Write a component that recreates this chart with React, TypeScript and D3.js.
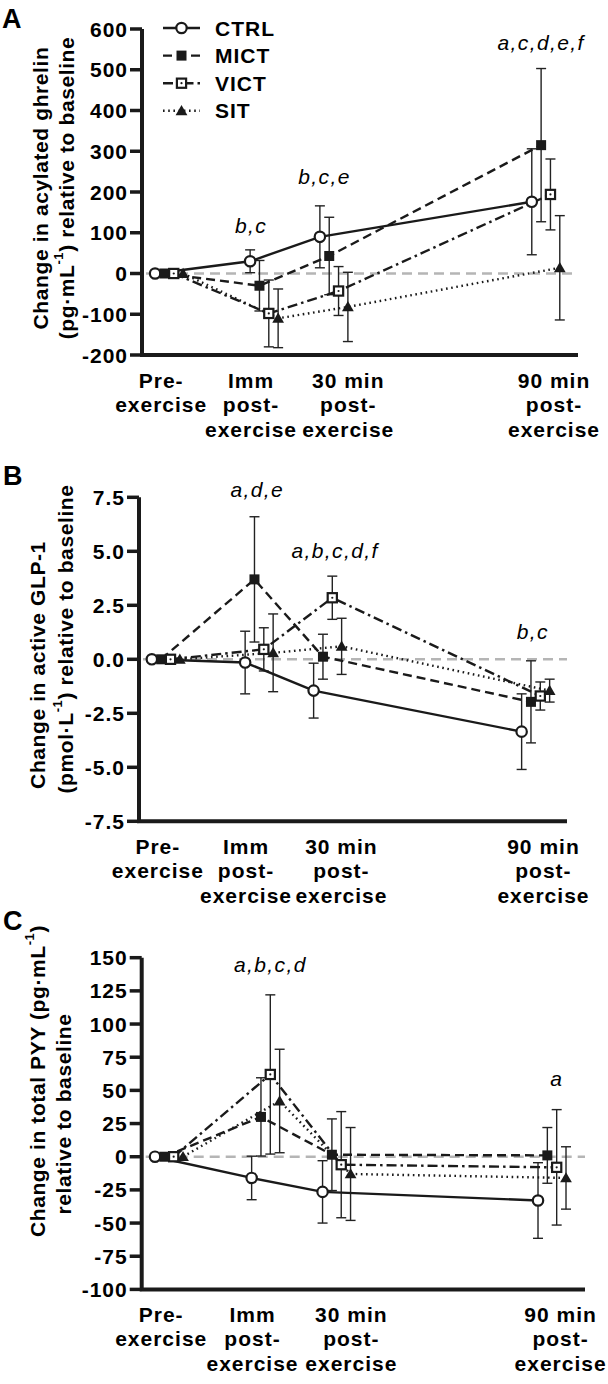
import React from "react";
import * as d3 from "d3";

// time points (x positions on a 0-10 plot axis, as laid out in the figure)
const timeLabels = [
  ["Pre-", "exercise"],
  ["Imm", "post-", "exercise"],
  ["30 min", "post-", "exercise"],
  ["90 min", "post-", "exercise"],
];
const timePos = [0.3, 2.48, 4.08, 8.94];
const labelPos = [0.44, 2.5, 4.73, 9.45];

const seriesNames = ["CTRL", "MICT", "VICT", "SIT"];

// Panel A: acylated ghrelin (pg/mL), mean and SD per series
const ghrelinMean = [
  [0, 30, 90, 176],
  [0, -30, 43, 315],
  [0, -98, -43, 194],
  [0, -110, -82, 14],
];
const ghrelinErr = [
  [0, 28, 76, 130],
  [0, 62, 95, 188],
  [0, 82, 60, 87],
  [0, 72, 85, 128],
];
const ghrelinTicks = [-200, -100, 0, 100, 200, 300, 400, 500, 600];
const ghrelinNotes = [
  { text: "b,c", t: 1, slot: 0.1, v: 119 },
  { text: "b,c,e", t: 2, slot: 0.5, v: 237 },
  { text: "a,c,d,e,f", t: 3, slot: 1, v: 568 },
];

// Panel B: active GLP-1 (pmol/L)
const glpMean = [
  [0, -0.15, -1.45, -3.35],
  [0, 3.7, 0.12, -1.97],
  [0, 0.46, 2.85, -1.7],
  [0, 0.3, 0.6, -1.45],
];
const glpErr = [
  [0, 1.45, 1.27, 1.75],
  [0, 2.9, 1.04, 1.9],
  [0, 1.0, 1.0, 0.65],
  [0, 1.8, 1.3, 0.53],
];
const glpTicks = [-7.5, -5, -2.5, 0, 2.5, 5, 7.5];
const glpNotes = [
  { text: "a,d,e", t: 1, slot: 1.3, v: 7.84 },
  { text: "a,b,c,d,f", t: 2, slot: 2.3, v: 5.06 },
  { text: "b,c", t: 3, slot: 1.2, v: 1.28 },
];

// Panel C: total PYY (pg/mL)
const pyyMean = [
  [0, -16, -26.5, -33],
  [0, 30, 1.5, 1],
  [0, 62, -6, -8],
  [0, 42, -13, -16],
];
const pyyErr = [
  [0, 16.4, 23.5, 28.5],
  [0, 29.5, 27, 21],
  [0, 60, 40, 43.5],
  [0, 39, 35, 23.5],
];
const pyyTicks = [-100, -75, -50, -25, 0, 25, 50, 75, 100, 125, 150];
const pyyNotes = [
  { text: "a,b,c,d", t: 1, slot: 2, v: 144.5 },
  { text: "a", t: 3, slot: 2, v: 58.6 },
];

const FONT = "'Liberation Sans', Arial, sans-serif";
const INK = "#1a1a1a";

const dashes = [null, "9,5", "10,4,2.5,4", "1.6,3.6"];

const Marker = ({ kind, x, y }) => {
  if (kind === 0)
    return <circle cx={x} cy={y} r={5.2} fill="#fff" stroke={INK} strokeWidth={2.2} />;
  if (kind === 1)
    return <rect x={x - 5} y={y - 5} width={10} height={10} fill={INK} />;
  if (kind === 2)
    return (
      <g>
        <rect x={x - 4.6} y={y - 4.6} width={9.2} height={9.2} fill="#fff" stroke={INK} strokeWidth={2.2} />
        <circle cx={x} cy={y} r={1.1} fill={INK} />
      </g>
    );
  return (
    <path
      transform={`translate(${x},${y + 1})`}
      d={d3.symbol(d3.symbolTriangle, 60)()}
      fill={INK}
    />
  );
};

const Panel = ({ letter, geom, domain, ticks, fmt, mean, err, notes, title }) => {
  const x = d3.scaleLinear().domain([0, 10]).range([geom.left, geom.right]);
  const y = d3.scaleLinear().domain(domain).range([geom.bottom, geom.top]);
  const off = d3.scalePoint().domain(seriesNames).range([0, 28]);
  const px = (s, t) => x(timePos[t]) + off(seriesNames[s]);

  const line = d3
    .line()
    .x((d) => d[0])
    .y((d) => d[1]);

  return (
    <g>
      <text x={geom.letterX} y={geom.letterY} fontSize={27} fontWeight="bold" fontFamily={FONT}>
        {letter}
      </text>
      {title.map((tl, i) => (
        <text
          key={i}
          transform={`translate(${tl.x},${tl.y}) rotate(-90)`}
          textAnchor="middle"
          dominantBaseline="central"
          fontSize={21}
          fontWeight="bold"
          letterSpacing={0.6}
          fontFamily={FONT}
        >
          {tl.parts.map((p, j) =>
            p.sup ? (
              <tspan key={j} baselineShift="super" fontSize={13}>
                {p.s}
              </tspan>
            ) : (
              <tspan key={j}>{p.s}</tspan>
            )
          )}
        </text>
      ))}

      {/* zero reference */}
      <line
        x1={geom.left + 4}
        x2={geom.right}
        y1={y(0)}
        y2={y(0)}
        stroke="#b5b5b5"
        strokeWidth={2.6}
        strokeDasharray="10,6"
      />

      {/* error bars */}
      {mean.map((ser, s) =>
        ser.map((m, t) => {
          const e = err[s][t];
          if (!e) return null;
          const cx = px(s, t);
          return (
            <g key={`e${s}-${t}`} stroke="#222" strokeWidth={1.4}>
              <line x1={cx} x2={cx} y1={y(m - e)} y2={y(m + e)} />
              <line x1={cx - 5} x2={cx + 5} y1={y(m - e)} y2={y(m - e)} />
              <line x1={cx - 5} x2={cx + 5} y1={y(m + e)} y2={y(m + e)} />
            </g>
          );
        })
      )}

      {/* series lines */}
      {mean.map((ser, s) => (
        <path
          key={`l${s}`}
          d={line(ser.map((m, t) => [px(s, t), y(m)]))}
          fill="none"
          stroke={INK}
          strokeWidth={2.4}
          strokeDasharray={dashes[s] || undefined}
        />
      ))}

      {/* markers */}
      {mean.map((ser, s) =>
        ser.map((m, t) => <Marker key={`m${s}-${t}`} kind={s} x={px(s, t)} y={y(m)} />)
      )}

      {/* axes */}
      <path
        d={`M${geom.left},${geom.top} V${geom.bottom} H${geom.right}`}
        fill="none"
        stroke={INK}
        strokeWidth={4}
      />
      {ticks.map((v) => (
        <g key={v}>
          <line x1={geom.left - 12} x2={geom.left} y1={y(v)} y2={y(v)} stroke={INK} strokeWidth={3.5} />
          <text
            x={geom.left - 14}
            y={y(v)}
            textAnchor="end"
            dominantBaseline="central"
            fontSize={21}
            fontWeight="bold"
            letterSpacing={1}
            fontFamily={FONT}
          >
            {fmt(v)}
          </text>
        </g>
      ))}
      {timeLabels.map((lines, t) =>
        lines.map((ln, k) => (
          <text
            key={`x${t}-${k}`}
            x={x(labelPos[t])}
            y={geom.bottom + 25 + k * 24.5}
            textAnchor="middle"
            dominantBaseline="central"
            fontSize={21}
            fontWeight="bold"
            letterSpacing={1}
            fontFamily={FONT}
          >
            {ln}
          </text>
        ))
      )}

      {/* significance notes */}
      {notes.map((n, i) => (
        <text
          key={`n${i}`}
          x={x(timePos[n.t]) + n.slot * off.step()}
          y={y(n.v)}
          textAnchor="middle"
          dominantBaseline="central"
          fontSize={21}
          fontStyle="italic"
          letterSpacing={1.4}
          fontFamily={FONT}
        >
          {n.text}
        </text>
      ))}
    </g>
  );
};

const Legend = () => (
  <g>
    {seriesNames.map((name, s) => {
      const ly = 28 + s * 27.6;
      return (
        <g key={name}>
          <line
            x1={163}
            x2={200}
            y1={ly}
            y2={ly}
            stroke={INK}
            strokeWidth={2.4}
            strokeDasharray={dashes[s] || undefined}
          />
          <Marker kind={s} x={181.5} y={ly} />
          <text
            x={215}
            y={ly}
            dominantBaseline="central"
            fontSize={21}
            fontWeight="bold"
            letterSpacing={1}
            fontFamily={FONT}
          >
            {name}
          </text>
        </g>
      );
    })}
  </g>
);

export default function App() {
  const intFmt = (v) => String(v);
  const decFmt = (v) => v.toFixed(1);
  return (
    <svg
      width={608}
      height={1384}
      style={{ position: "absolute", left: 0, top: 0, background: "#fff" }}
    >
      <rect width={608} height={1384} fill="#fff" />
      <Panel
        letter="A"
        geom={{ left: 142, right: 578, top: 29, bottom: 355, letterX: 2, letterY: 28 }}
        domain={[-200, 600]}
        ticks={ghrelinTicks}
        fmt={intFmt}
        mean={ghrelinMean}
        err={ghrelinErr}
        notes={ghrelinNotes}
        title={[
          { x: 40, y: 188, parts: [{ s: "Change in acylated ghrelin" }] },
          {
            x: 66,
            y: 188,
            parts: [{ s: "(pg·mL" }, { s: "-1", sup: true }, { s: ") relative to baseline" }],
          },
        ]}
      />
      <Legend />
      <Panel
        letter="B"
        geom={{ left: 139, right: 567, top: 497.3, bottom: 821.3, letterX: 3, letterY: 485 }}
        domain={[-7.5, 7.5]}
        ticks={glpTicks}
        fmt={decFmt}
        mean={glpMean}
        err={glpErr}
        notes={glpNotes}
        title={[
          { x: 37, y: 665, parts: [{ s: "Change in active GLP-1" }] },
          {
            x: 65,
            y: 639,
            parts: [{ s: "(pmol·L" }, { s: "-1", sup: true }, { s: ") relative to baseline" }],
          },
        ]}
      />
      <Panel
        letter="C"
        geom={{ left: 141.7, right: 585, top: 957.7, bottom: 1289.4, letterX: 3, letterY: 930 }}
        domain={[-100, 150]}
        ticks={pyyTicks}
        fmt={intFmt}
        mean={pyyMean}
        err={pyyErr}
        notes={pyyNotes}
        title={[
          {
            x: 37,
            y: 1081,
            parts: [{ s: "Change in total PYY (pg·mL" }, { s: "-1", sup: true }, { s: ")" }],
          },
          { x: 63, y: 1114, parts: [{ s: "relative to baseline" }] },
        ]}
      />
    </svg>
  );
}
